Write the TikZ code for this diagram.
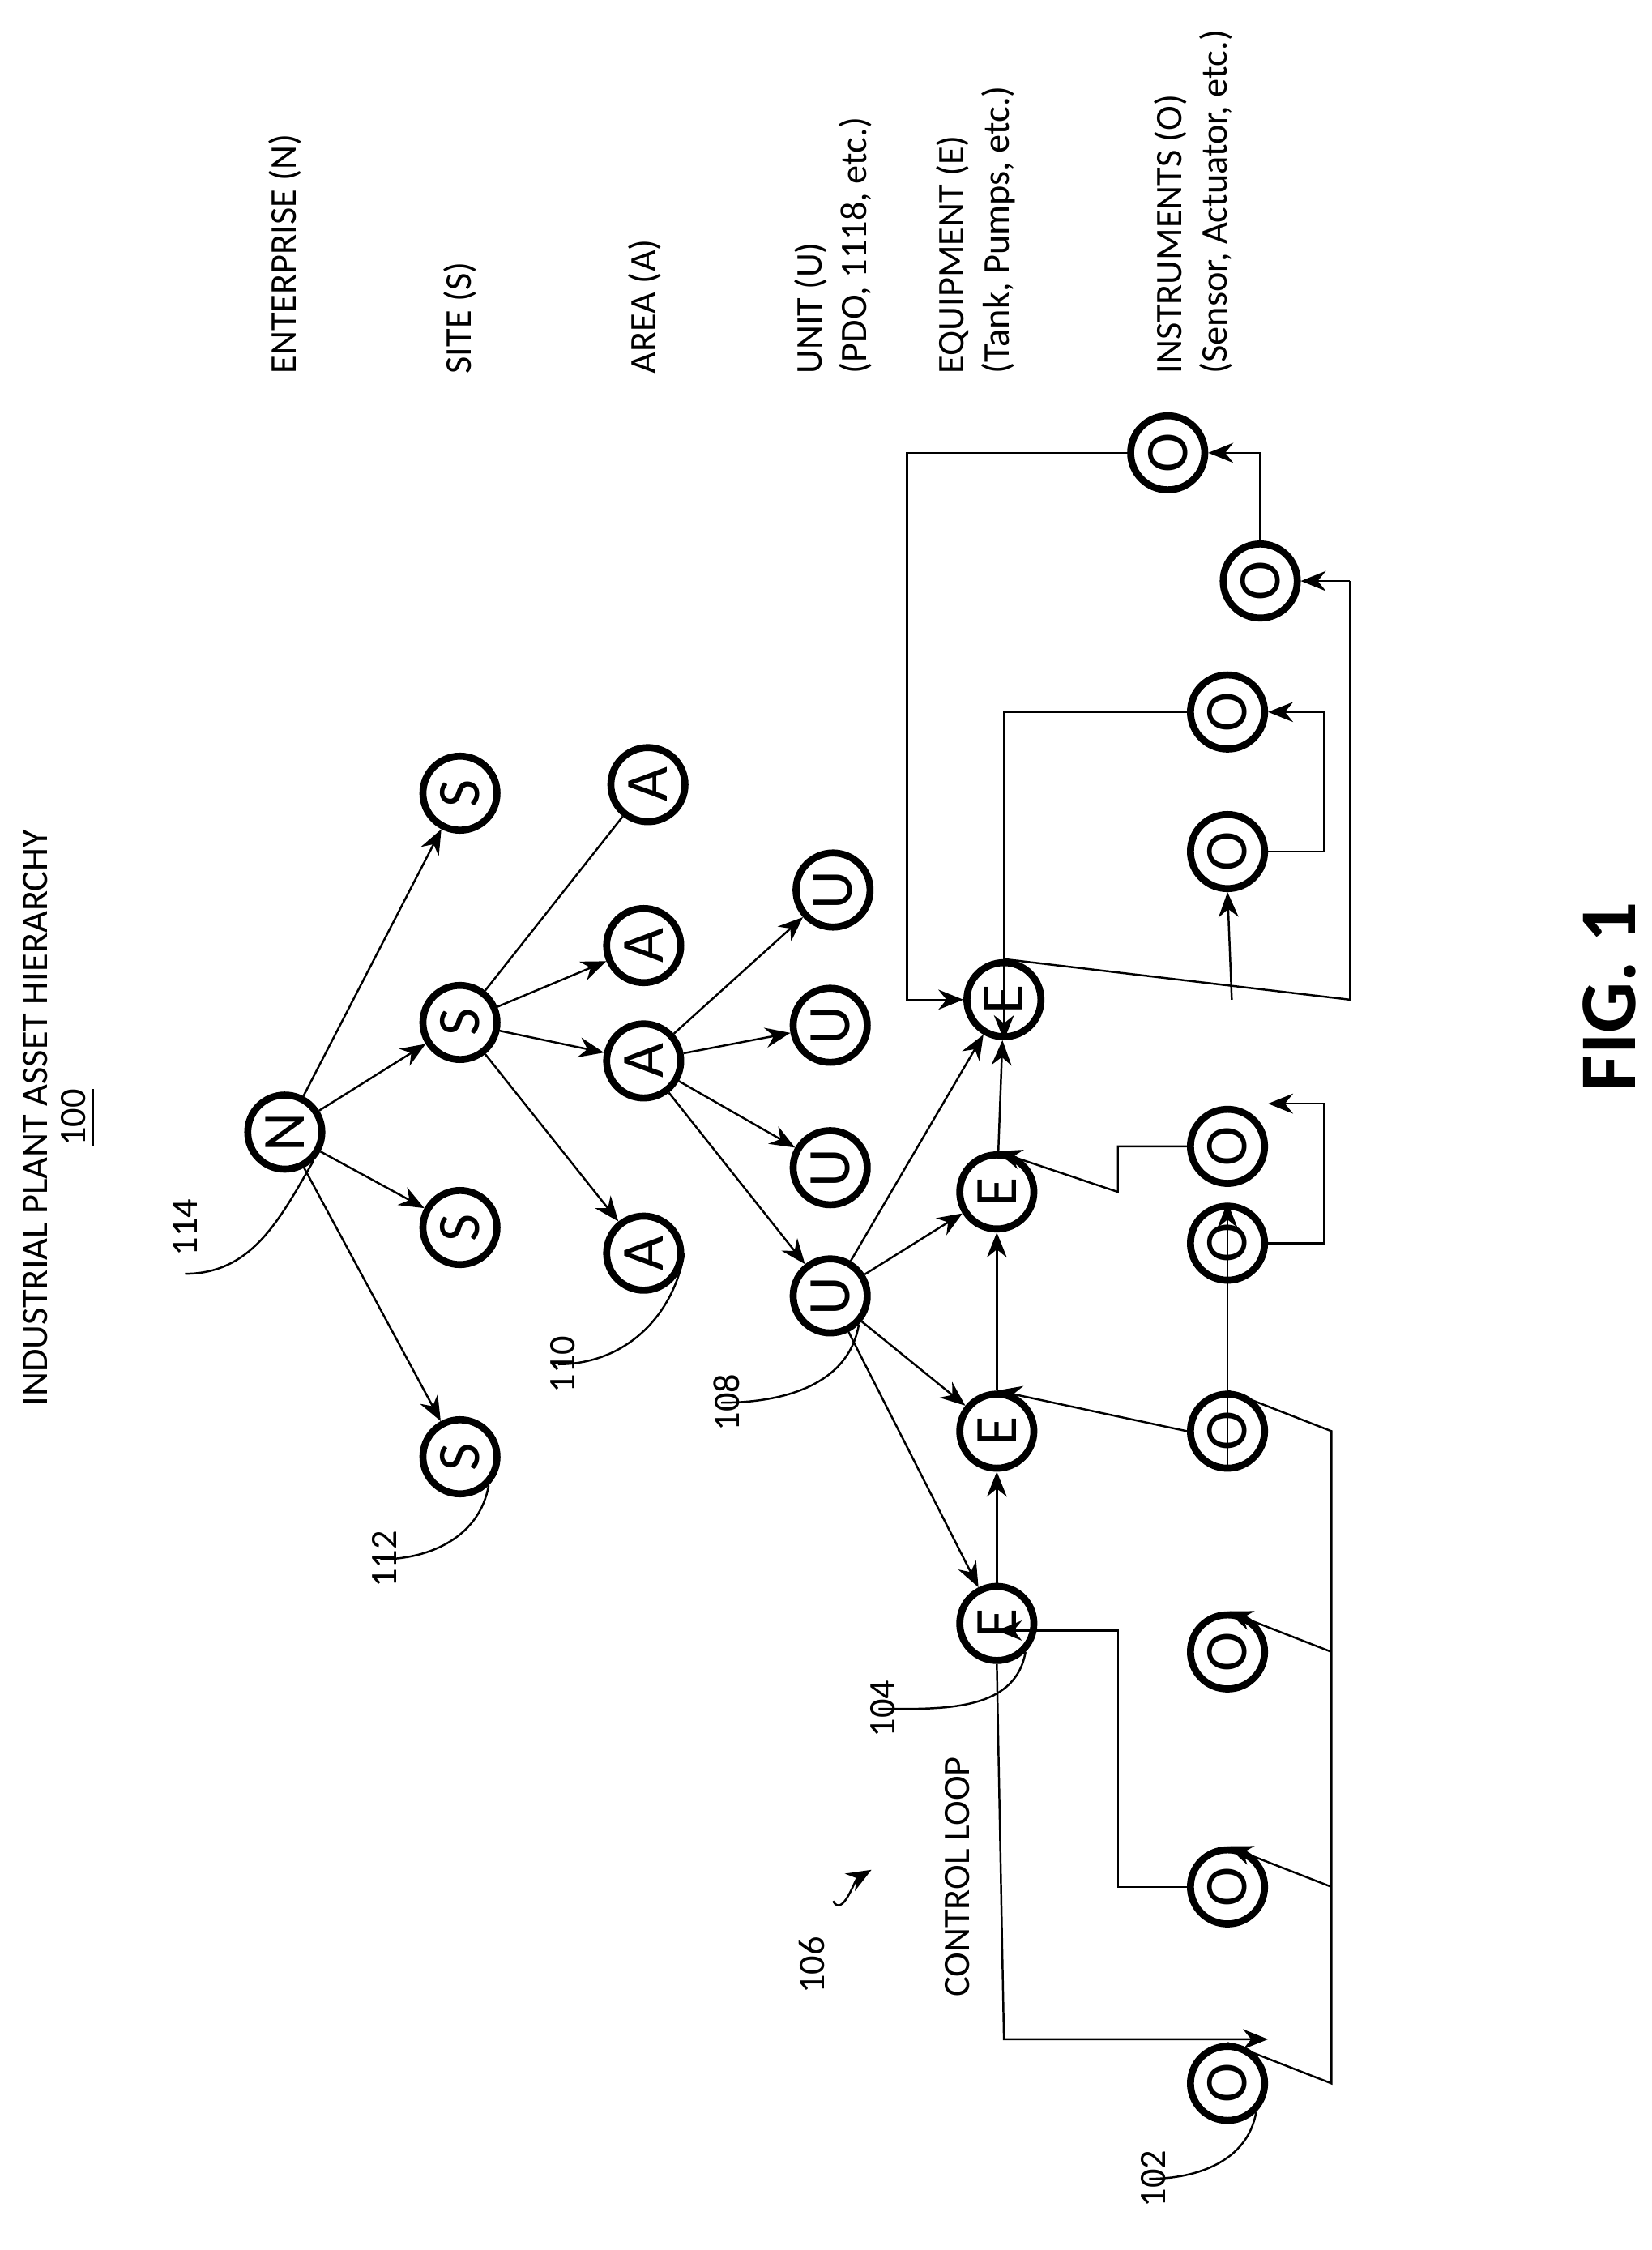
\documentclass[tikz,border=0pt]{standalone}
\usepackage{fontspec}
\setmainfont{Carlito}
\usetikzlibrary{arrows.meta}
\begin{document}
\begin{tikzpicture}[x=0.01cm,y=-0.01cm,>={Stealth[length=5pt,width=4pt]},
  asset/.style={circle,draw,line width=1.4pt,minimum size=0.52cm,inner sep=0pt,font=\fontsize{12}{12}\selectfont,rotate=90},
  level/.style={rotate=90,anchor=west,align=left,font=\fontsize{7.5}{9}\selectfont},
  ref/.style={rotate=90,font=\fontsize{7.5}{9}\selectfont},
  link/.style={->,thin}]
\useasboundingbox (0,0) rectangle (1160,1580);

% titles
\node[ref] (title) at (25,785) {INDUSTRIAL PLANT ASSET HIERARCHY};
\node[ref] (num) at (55,785) {\underline{100}};
\node[level] (lN) at (200,275) {ENTERPRISE (N)};
\node[level] (lS) at (323,275) {SITE (S)};
\node[level] (lA) at (453,275) {AREA (A)};
\node[level] (lU) at (585,275) {UNIT (U)\\(PDO, 1118, etc.)};
\node[level] (lE) at (685,275) {EQUIPMENT (E)\\(Tank, Pumps, etc.)};
\node[level] (lO) at (838,275) {INSTRUMENTS (O)\\(Sensor, Actuator, etc.)};
\node[rotate=90,font=\bfseries\fontsize{16}{16}\selectfont] (fig) at (1130,700) {FIG. 1};

% nodes
\node[asset] (n) at (200,795) {N};
\node[asset] (s1) at (323,1023) {S};
\node[asset] (s2) at (323,862) {S};
\node[asset] (s3) at (323,718) {S};
\node[asset] (s4) at (323,557) {S};
\node[asset] (a1) at (452,880) {A};
\node[asset] (a2) at (452,745) {A};
\node[asset] (a3) at (452,664) {A};
\node[asset] (a4) at (455,551) {A};
\node[asset] (u1) at (583,910) {U};
\node[asset] (u2) at (583,820) {U};
\node[asset] (u3) at (583,720) {U};
\node[asset] (u4) at (585,625) {U};
\node[asset] (e1) at (700,1140) {E};
\node[asset] (e2) at (700,1005) {E};
\node[asset] (e3) at (700,837) {E};
\node[asset] (e4) at (705,702) {E};
\foreach \n/\y in {1/1463,2/1325,3/1160,4/1005,5/873,6/805,7/598,8/500}
  \node[asset] (o\n) at (862,\y) {O};
\node[asset] (o9) at (885,408) {O};
\node[asset] (o10) at (820,318) {O};

% hierarchy
\foreach \s in {s1,s2,s3,s4} \draw[link] (n) -- (\s);
\foreach \a in {a1,a2,a3} \draw[link] (s3) -- (\a);
\draw[thin] (s3) -- (a4);
\foreach \u in {u1,u2,u3,u4} \draw[link] (a2) -- (\u);
\foreach \e in {e1,e2,e3,e4} \draw[link] (u1) -- (\e);
\draw[link] (e1) -- (e2);
\draw[link] (e2) -- (e3);
\draw[link] (e3) -- (e4);

% control loops
\draw[link] (e1.west) -- (705,1432) -- (o1.north west |- 705,1432) coordinate (c1) -- (c1 -| o1.south);
\draw[thin] (o1.east) -- (935,1463) -- (935,1005) -- (o4.east);
\draw[link] (935,1325) -- (o2.east);
\draw[link] (935,1160) -- (o3.east);
\draw[link] (o2.north) -- (785,1325) -- (785,1145) -- (e1.east |- 785,1145);
\draw[link] (o4.north) -- (e2.east);
\draw[link] (o4.west) -- (o5.east);
\draw[link] (o5.south) -- (930,873) -- (930,775) -- (o6.south |- 930,775);
\draw[link] (o6.north) -- (785,805) -- (785,837) -- (e3.east);
\draw[thin] (e4.east) -- (948,702) -- (948,408);
\draw[link] (948,408) -- (o9.south);
\draw[link] (865,702) -- (o7.west);
\draw[link] (o7.south) -- (930,598) -- (930,500) -- (o8.south);
\draw[link] (o8.north) -- (705,500) -- (e4.west);
\draw[link] (o9.east) -- (885,318) -- (o10.south);
\draw[link] (o10.north) -- (637,318) -- (637,702) -- (e4.north);

% reference numbers
\node[ref] (r114) at (130,862) {114};
\draw[thin] (r114.west) to[out=0,in=240] (n.south west);
\node[ref] (r112) at (270,1095) {112};
\draw[thin] (r112.north) ++(18,0) to[out=0,in=260] (s1.south west);
\node[ref] (r110) at (395,958) {110};
\draw[thin] (r110.north) ++(18,0) to[out=0,in=260] (a1.south);
\node[ref] (r108) at (510,985) {108};
\draw[thin] (r108.north) ++(18,0) to[out=0,in=260] (u1.south west);
\node[ref] (r104) at (620,1200) {104};
\draw[thin] (r104.north) ++(18,0) to[out=0,in=260] (e1.south west);
\node[ref] (r102) at (810,1530) {102};
\draw[thin] (r102.north) ++(18,0) to[out=0,in=260] (o1.south west);
\node[ref] (r106) at (570,1380) {106};
\draw[->,thin] (585,1335) to[out=-60,in=210] (612,1313);
\node[ref] (loop) at (672,1318) {CONTROL LOOP};
\end{tikzpicture}
\end{document}
